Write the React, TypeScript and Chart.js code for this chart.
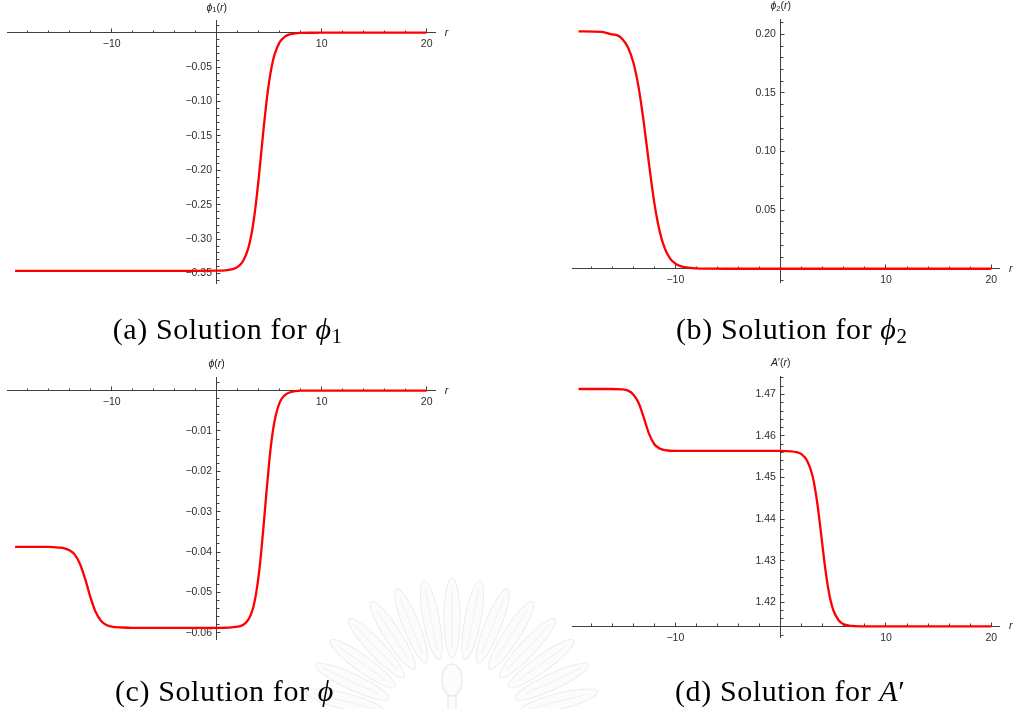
import React, { useEffect, useRef } from 'react';
import { Chart, registerables } from 'chart.js';

Chart.register(...registerables);

// ---- solution profiles (r, value) ----
const phi1R = [-19.2, -10, -5, -2, 0, 1, 1.5, 2, 2.5, 3, 3.25, 3.5, 3.75, 4, 4.25, 4.5, 4.75, 5, 5.25, 5.5, 6, 6.5, 7, 7.5, 8, 9, 10, 15, 20];
const phi1V = [-0.346, -0.346, -0.346, -0.346, -0.3459, -0.3451, -0.3437, -0.3403, -0.3322, -0.3137, -0.2977, -0.2755, -0.2466, -0.2116, -0.173, -0.1344, -0.0994, -0.0705, -0.0483, -0.0323, -0.0138, -0.0057, -0.0023, -0.0009, -0.0004, -0.0001, 0, 0, 0];

const phi2R = [-19.2, -17, -16, -15.5, -15, -14.5, -14, -13.5, -13, -12.5, -12, -11.5, -11, -10.5, -10, -9.5, -9, -8, -7, -5, 0, 10, 20];
const phi2V = [0.2026, 0.2022, 0.1999, 0.1991, 0.1956, 0.1888, 0.1762, 0.1552, 0.1247, 0.0891, 0.0562, 0.0321, 0.0171, 0.0087, 0.0044, 0.0022, 0.0011, 0.0003, 0.0001, 0, 0, 0, 0];

const phiR = [-19.2, -16, -15, -14.5, -14, -13.5, -13, -12.5, -12, -11.5, -11, -10.5, -10, -9, -8, 0, 2, 2.5, 3, 3.25, 3.5, 3.75, 4, 4.25, 4.5, 4.75, 5, 5.25, 5.5, 6, 6.5, 7, 7.5, 8, 10, 15, 20];
const phiV = [-0.0387, -0.0387, -0.0389, -0.0391, -0.0396, -0.0407, -0.0431, -0.0469, -0.0514, -0.055, -0.0571, -0.0581, -0.0585, -0.0587, -0.0588, -0.0588, -0.0585, -0.0581, -0.0568, -0.0555, -0.0535, -0.0503, -0.0458, -0.0397, -0.0325, -0.0248, -0.0177, -0.0119, -0.0077, -0.0029, -0.0011, -0.0004, -0.0001, 0, 0, 0, 0];

const aPrimeR = [-19.2, -16, -15, -14.5, -14, -13.5, -13, -12.5, -12, -11.5, -11, -10, -9, 0, 1, 1.5, 2, 2.5, 3, 3.25, 3.5, 3.75, 4, 4.25, 4.5, 4.75, 5, 5.5, 6, 6.5, 7, 8, 10, 15, 20];
const aPrimeV = [1.4713, 1.4713, 1.4712, 1.4709, 1.47, 1.468, 1.4644, 1.4605, 1.458, 1.457, 1.4566, 1.4564, 1.4564, 1.4564, 1.4563, 1.4561, 1.4556, 1.4541, 1.4506, 1.4475, 1.4434, 1.4383, 1.4329, 1.4278, 1.4235, 1.4203, 1.4181, 1.4157, 1.4147, 1.4144, 1.4143, 1.4142, 1.4142, 1.4142, 1.4142];

// ---- ticks ----
const rMajorTicks = [-10, 10, 20];
const rMajorLabels = ['\u221210', '10', '20'];
const rMinorTicks = [-18, -16, -14, -12, -8, -6, -4, -2, 2, 4, 6, 8, 12, 14, 16, 18];

const phi1Ticks = [-0.05, -0.1, -0.15, -0.2, -0.25, -0.3, -0.35];
const phi1Labels = ['\u22120.05', '\u22120.10', '\u22120.15', '\u22120.20', '\u22120.25', '\u22120.30', '\u22120.35'];
const phi1Minor = [-0.36, -0.34, -0.33, -0.32, -0.31, -0.29, -0.28, -0.27, -0.26, -0.24, -0.23, -0.22, -0.21, -0.19, -0.18, -0.17, -0.16, -0.14, -0.13, -0.12, -0.11, -0.09, -0.08, -0.07, -0.06, -0.04, -0.03, -0.02, -0.01, 0.01];

const phi2Ticks = [0.05, 0.1, 0.15, 0.2];
const phi2Labels = ['0.05', '0.10', '0.15', '0.20'];
const phi2Minor = [-0.01, 0.01, 0.02, 0.03, 0.04, 0.06, 0.07, 0.08, 0.09, 0.11, 0.12, 0.13, 0.14, 0.16, 0.17, 0.18, 0.19, 0.21];

const phiTicks = [-0.01, -0.02, -0.03, -0.04, -0.05, -0.06];
const phiLabels = ['\u22120.01', '\u22120.02', '\u22120.03', '\u22120.04', '\u22120.05', '\u22120.06'];
const phiMinor = [-0.058, -0.056, -0.054, -0.052, -0.048, -0.046, -0.044, -0.042, -0.038, -0.036, -0.034, -0.032, -0.028, -0.026, -0.024, -0.022, -0.018, -0.016, -0.014, -0.012, -0.008, -0.006, -0.004, -0.002, 0.002];

const aPrimeTicks = [1.42, 1.43, 1.44, 1.45, 1.46, 1.47];
const aPrimeLabels = ['1.42', '1.43', '1.44', '1.45', '1.46', '1.47'];
const aPrimeMinor = [1.412, 1.416, 1.418, 1.422, 1.424, 1.426, 1.428, 1.432, 1.434, 1.436, 1.438, 1.442, 1.444, 1.446, 1.448, 1.452, 1.454, 1.456, 1.458, 1.462, 1.464, 1.466, 1.468, 1.472, 1.474];

type Seg = { t: string; italic?: boolean; sub?: boolean };

const AXIS_COLOR = '#404040';
const LABEL_COLOR = '#2e2e2e';
const SANS = '"Liberation Sans", Arial, sans-serif';

const axisNamePlugin = {
  id: 'axisNames',
  afterDraw(chart: any, _args: any, opts: any) {
    const { ctx, chartArea } = chart;
    const xs = chart.scales.x;
    const ys = chart.scales.y;
    const segs: Seg[] = opts.yName;
    const font = (s: Seg) => `${s.italic ? 'italic ' : ''}${s.sub ? 7.5 : 10.5}px ${SANS}`;
    ctx.save();
    ctx.fillStyle = '#222';
    ctx.textBaseline = 'middle';
    ctx.textAlign = 'left';
    let total = 0;
    segs.forEach((s) => { ctx.font = font(s); total += ctx.measureText(s.t).width; });
    let x = xs.getPixelForValue(0) - total / 2;
    const y = chartArea.top - 13;
    segs.forEach((s) => {
      ctx.font = font(s);
      ctx.fillText(s.t, x, y + (s.sub ? 2.5 : 0));
      x += ctx.measureText(s.t).width;
    });
    ctx.font = `italic 10.5px ${SANS}`;
    ctx.textAlign = 'center';
    ctx.fillText(opts.xName, chartArea.right + 11.5, ys.getPixelForValue(opts.cross));
    ctx.restore();
  },
};

interface PanelSpec {
  box: { left: number; top: number; width: number; height: number };
  pad: { left: number; top: number; right: number; bottom: number };
  xRange: [number, number];
  yRange: [number, number];
  cross: number;
  labelAt: number;
  r: number[];
  v: number[];
  yMajor: number[];
  yLabels: string[];
  yMinor: number[];
  yName: Seg[];
}

const panels: PanelSpec[] = [
  {
    box: { left: 0, top: 0, width: 480, height: 320 },
    pad: { left: 7, top: 20.7, right: 45, bottom: 36.7 },
    xRange: [-19.97, 20.79],
    yRange: [-0.3642, 0.0174],
    cross: 0,
    labelAt: -0.45,
    r: phi1R, v: phi1V,
    yMajor: phi1Ticks, yLabels: phi1Labels, yMinor: phi1Minor,
    yName: [{ t: '\u03d5', italic: true }, { t: '1', sub: true }, { t: '(' }, { t: 'r', italic: true }, { t: ')' }],
  },
  {
    box: { left: 560, top: 0, width: 459, height: 320 },
    pad: { left: 12.3, top: 19, right: 19.7, bottom: 37.3 },
    xRange: [-19.79, 20.76],
    yRange: [-0.0119, 0.2131],
    cross: 0,
    labelAt: -0.45,
    r: phi2R, v: phi2V,
    yMajor: phi2Ticks, yLabels: phi2Labels, yMinor: phi2Minor,
    yName: [{ t: '\u03d5', italic: true }, { t: '2', sub: true }, { t: '(' }, { t: 'r', italic: true }, { t: ')' }],
  },
  {
    box: { left: 0, top: 350, width: 480, height: 330 },
    pad: { left: 7, top: 27.3, right: 45, bottom: 40.4 },
    xRange: [-19.97, 20.79],
    yRange: [-0.0617, 0.0033],
    cross: 0,
    labelAt: -0.45,
    r: phiR, v: phiV,
    yMajor: phiTicks, yLabels: phiLabels, yMinor: phiMinor,
    yName: [{ t: '\u03d5', italic: true }, { t: '(' }, { t: 'r', italic: true }, { t: ')' }],
  },
  {
    box: { left: 560, top: 350, width: 459, height: 330 },
    pad: { left: 12.3, top: 26.5, right: 19.7, bottom: 42.3 },
    xRange: [-19.79, 20.76],
    yRange: [1.4115, 1.4743],
    cross: 1.41421,
    labelAt: -0.45,
    r: aPrimeR, v: aPrimeV,
    yMajor: aPrimeTicks, yLabels: aPrimeLabels, yMinor: aPrimeMinor,
    yName: [{ t: 'A', italic: true }, { t: '\u2032' }, { t: '(' }, { t: 'r', italic: true }, { t: ')' }],
  },
];

const captionTags = ['(a)', '(b)', '(c)', '(d)'];
const captionSymbols = ['\u03d5', '\u03d5', '\u03d5', 'A'];
const captionMarks = ['1', '2', '', '\u2032'];
const captionPos = [
  { left: 112.7, top: 314 },
  { left: 676, top: 314 },
  { left: 115, top: 676 },
  { left: 675, top: 676 },
];

function buildConfig(p: PanelSpec): any {
  const labelFont = { family: SANS, size: 10.5 };
  const tickGrid = (len: number) => ({
    drawOnChartArea: false,
    tickLength: len,
    tickColor: AXIS_COLOR,
    tickWidth: 1,
  });
  const fixedTicks = (vals: number[]) => (s: any) => { s.ticks = vals.map((value) => ({ value })); };
  return {
    type: 'scatter',
    data: {
      datasets: [
        {
          data: p.r.map((x, i) => ({ x, y: p.v[i] })),
          showLine: true,
          borderColor: '#ff0000',
          borderWidth: 2.3,
          pointRadius: 0,
          cubicInterpolationMode: 'monotone',
          fill: false,
        },
      ],
    },
    options: {
      animation: false,
      responsive: false,
      devicePixelRatio: 1,
      events: [],
      layout: { padding: p.pad },
      plugins: {
        legend: { display: false },
        tooltip: { enabled: false },
        axisNames: { yName: p.yName, xName: 'r', cross: p.cross },
      },
      scales: {
        x: {
          type: 'linear',
          bounds: 'data',
          min: p.xRange[0],
          max: p.xRange[1],
          position: { y: p.cross },
          afterBuildTicks: fixedTicks(rMajorTicks),
          grid: tickGrid(-4.5),
          border: { display: true, color: AXIS_COLOR, width: 1 },
          ticks: { autoSkip: false, maxRotation: 0, padding: 10, color: LABEL_COLOR, font: labelFont, callback: (_v: any, i: number) => rMajorLabels[i] },
        },
        xMinor: {
          type: 'linear',
          axis: 'x',
          bounds: 'data',
          min: p.xRange[0],
          max: p.xRange[1],
          position: { y: p.cross },
          afterBuildTicks: fixedTicks(rMinorTicks),
          grid: tickGrid(-2.5),
          border: { display: false },
          ticks: { display: false },
        },
        y: {
          type: 'linear',
          bounds: 'data',
          min: p.yRange[0],
          max: p.yRange[1],
          position: { x: 0 },
          afterBuildTicks: fixedTicks(p.yMajor),
          grid: tickGrid(-4.5),
          border: { display: true, color: AXIS_COLOR, width: 1 },
          ticks: { display: false },
        },
        yMinor: {
          type: 'linear',
          axis: 'y',
          bounds: 'data',
          min: p.yRange[0],
          max: p.yRange[1],
          position: { x: 0 },
          afterBuildTicks: fixedTicks(p.yMinor),
          grid: tickGrid(-2.5),
          border: { display: false },
          ticks: { display: false },
        },
        // value labels of the vertical axis, set just left of it
        yText: {
          type: 'linear',
          axis: 'y',
          bounds: 'data',
          min: p.yRange[0],
          max: p.yRange[1],
          position: { x: p.labelAt },
          afterBuildTicks: fixedTicks(p.yMajor),
          grid: { display: false },
          border: { display: false },
          ticks: { autoSkip: false, padding: 0, color: LABEL_COLOR, font: labelFont, callback: (_v: any, i: number) => p.yLabels[i] },
        },
      },
    },
    plugins: [axisNamePlugin],
  };
}

function Panel({ spec }: { spec: PanelSpec }) {
  const ref = useRef<HTMLCanvasElement | null>(null);
  useEffect(() => {
    if (!ref.current) return;
    const chart = new Chart(ref.current, buildConfig(spec));
    return () => chart.destroy();
  }, [spec]);
  const { left, top, width, height } = spec.box;
  return (
    <canvas
      ref={ref}
      width={width}
      height={height}
      style={{ position: 'absolute', left, top, width, height }}
    />
  );
}

// faint university crest printed behind the lower captions
function Crest() {
  const cx = 452;
  const cy = 728;
  const petals = [];
  for (let k = 0; k < 15; k++) {
    const deg = 194 + k * (152 / 14);
    petals.push(
      <g key={k} transform={`translate(${cx} ${cy}) rotate(${deg})`}>
        <ellipse cx={110} cy={0} rx={40} ry={8} fill="#fcfcfc" stroke="#ececec" strokeWidth={1} />
        <line x1={80} y1={0} x2={142} y2={0} stroke="#f1f1f1" strokeWidth={1} />
      </g>
    );
  }
  return (
    <svg width={1019} height={709} style={{ position: 'absolute', left: 0, top: 0 }}>
      {petals}
      <ellipse cx={cx} cy={680} rx={10} ry={16} fill="#fcfcfc" stroke="#e6e6e6" strokeWidth={1.2} />
      <rect x={cx - 4} y={696} width={8} height={14} fill="#fcfcfc" stroke="#e8e8e8" strokeWidth={1} />
    </svg>
  );
}

export default function App() {
  return (
    <div style={{ position: 'fixed', left: 0, top: 0, width: 1019, height: 709, background: '#ffffff', overflow: 'hidden' }}>
      <Crest />
      {panels.map((p, i) => (
        <Panel key={i} spec={p} />
      ))}
      {captionTags.map((tag, i) => (
        <div
          key={tag}
          style={{
            position: 'absolute',
            left: captionPos[i].left,
            top: captionPos[i].top,
            fontFamily: '"Liberation Serif", "Times New Roman", serif',
            fontSize: 30,
            lineHeight: '30px',
            letterSpacing: 0.6,
            color: '#000',
            whiteSpace: 'nowrap',
          }}
        >
          {tag} Solution for <i>{captionSymbols[i]}</i>
          {captionMarks[i] && (
            <span style={{ fontSize: captionMarks[i] === '\u2032' ? 30 : 21, position: 'relative', top: captionMarks[i] === '\u2032' ? 0 : 4 }}>
              {captionMarks[i]}
            </span>
          )}
        </div>
      ))}
    </div>
  );
}
